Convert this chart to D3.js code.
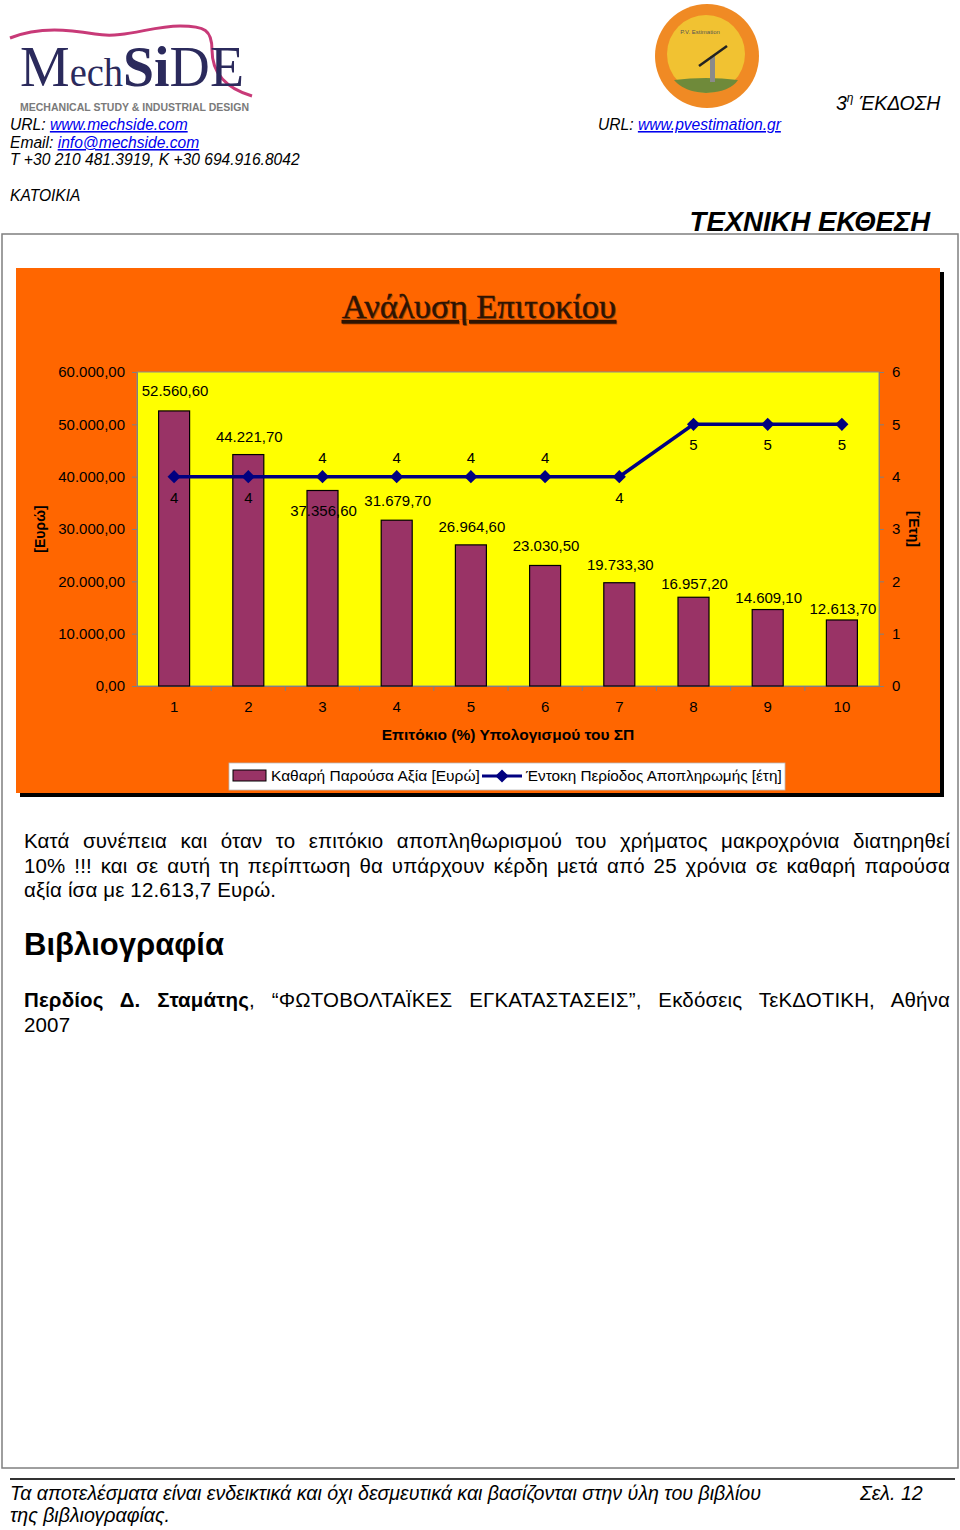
<!DOCTYPE html>
<html>
<head>
<meta charset="utf-8">
<script src="https://cdn.jsdelivr.net/npm/d3@7/dist/d3.min.js"></script>
<style>
  html, body { margin:0; padding:0; background:#fff; }
  body { width:960px; height:1530px; position:relative; overflow:hidden; font-family:"Liberation Sans", Arial, sans-serif; }
  svg { position:absolute; left:0; top:0; }
  .para { position:absolute; left:24px; width:926px; font-size:20.5px; letter-spacing:0.15px; color:#000; line-height:24.5px; }
  .j2 { text-align:justify; text-align-last:justify; white-space:nowrap; }
</style>
</head>
<body>
<svg id="page" width="960" height="1530"></svg>
<div class="para" style="top:829px;">
  <div class="j2">Κατά συνέπεια και όταν το επιτόκιο αποπληθωρισμού του χρήματος μακροχρόνια διατηρηθεί</div>
  <div class="j2">10% !!! και σε αυτή τη περίπτωση θα υπάρχουν κέρδη μετά από 25 χρόνια σε καθαρή παρούσα</div>
  <div>αξία ίσα με 12.613,7 Ευρώ.</div>
</div>
<div class="para" style="top:925px; font-size:31px; letter-spacing:0; font-weight:bold; line-height:40px;">Βιβλιογραφία</div>
<div class="para" style="top:988px;">
  <div class="j2"><b>Περδίος Δ. Σταμάτης</b>, “ΦΩΤΟΒΟΛΤΑΪΚΕΣ ΕΓΚΑΤΑΣΤΑΣΕΙΣ”, Εκδόσεις ΤεΚΔΟΤΙΚΗ, Αθήνα</div>
  <div>2007</div>
</div>
<script>
// ---------------- DATA ----------------
const rates = ["1","2","3","4","5","6","7","8","9","10"];
const npv = [52560.6, 44221.7, 37356.6, 31679.7, 26964.6, 23030.5, 19733.3, 16957.2, 14609.1, 12613.7];
const payback = [4, 4, 4, 4, 4, 4, 4, 5, 5, 5];
const leftTicks = [0, 10000, 20000, 30000, 40000, 50000, 60000];
const rightTicks = [0, 1, 2, 3, 4, 5, 6];
const seriesNames = ["Καθαρή Παρούσα Αξία [Ευρώ]", "Έντοκη Περίοδος Αποπληρωμής [έτη]"];
const chartTitle = "Ανάλυση Επιτοκίου";
const xTitle = "Επιτόκιο (%) Υπολογισμού του ΣΠ";
const yLeftTitle = "[Ευρώ]";
const yRightTitle = "[Έτη]";

// label layout (nudges, as placed in the original chart)
const barLabelDy = [-15, -13, 25, -14, -13, -14, -13, -8, -7, -6];
const lineLabelDy = [26, 26, -14, -14, -14, -14, 26, 26, 26, 26];

// ---------------- PAGE ----------------
const svg = d3.select("#page");
const FONT = "'Liberation Sans', Arial, sans-serif";

// Header: MechSiDE logo
const logo = svg.append("g");
logo.append("path")
  .attr("d", "M10,38 C40,26 70,30 95,34 C125,39 150,26 180,26 C205,26 212,30 212,50 C212,72 225,88 252,96")
  .attr("fill", "none").attr("stroke", "#c83a78").attr("stroke-width", 3);
const lt = logo.append("text").attr("x", 20).attr("y", 86)
  .attr("font-family", "'Liberation Serif', 'DejaVu Serif', serif").attr("fill", "#2b2a5c")
  .attr("textLength", 224).attr("lengthAdjust", "spacingAndGlyphs");
lt.append("tspan").attr("font-size", 58).text("M");
lt.append("tspan").attr("font-size", 40).text("ech");
lt.append("tspan").attr("font-size", 58).attr("font-weight", "bold").text("Si");
lt.append("tspan").attr("font-size", 58).text("DE");
logo.append("text").attr("x", 20).attr("y", 111).attr("font-family", FONT)
  .attr("font-size", 10.5).attr("font-weight", "bold").attr("fill", "#7a7a7a")
  .attr("textLength", 229).attr("lengthAdjust", "spacingAndGlyphs")
  .text("MECHANICAL STUDY & INDUSTRIAL DESIGN");

function headerLine(x, y, parts) {
  const t = svg.append("text").attr("x", x).attr("y", y).attr("font-family", FONT)
    .attr("font-size", 15.6).attr("font-style", "italic").attr("fill", "#000");
  parts.forEach(p => {
    const s = t.append("tspan").text(p.t);
    if (p.link) s.attr("fill", "#0000ee").attr("text-decoration", "underline");
  });
  return t;
}
headerLine(10, 130, [{t:"URL: "}, {t:"www.mechside.com", link:true}]);
headerLine(10, 148, [{t:"Email: "}, {t:"info@mechside.com", link:true}]);
headerLine(10, 165, [{t:"T +30 210 481.3919, K +30 694.916.8042"}]);
headerLine(10, 201, [{t:"KATOIKIA"}]);
headerLine(598, 130, [{t:"URL: "}, {t:"www.pvestimation.gr", link:true}]);

// PV logo
const pv = svg.append("g");
pv.append("circle").attr("cx", 707).attr("cy", 56).attr("r", 52).attr("fill", "#f08a24");
pv.append("circle").attr("cx", 706).attr("cy", 54).attr("r", 39).attr("fill", "#f1c232");
pv.append("path").attr("d", "M674,80 Q706,76 738,80 Q730,92 706,93 Q684,92 674,80 Z").attr("fill", "#6f8a3a");
pv.append("rect").attr("x", 710).attr("y", 56).attr("width", 5).attr("height", 26).attr("fill", "#8a8a8a");
pv.append("line").attr("x1", 699).attr("y1", 66).attr("x2", 727).attr("y2", 46).attr("stroke", "#222").attr("stroke-width", 2.5);
pv.append("text").attr("x", 700).attr("y", 34).attr("text-anchor", "middle").attr("font-family", FONT)
  .attr("font-size", 6).attr("fill", "#555").text("P.V. Estimation");

// Edition
const ed = svg.append("text").attr("x", 836).attr("y", 110).attr("font-family", FONT)
  .attr("font-size", 19.5).attr("font-style", "italic");
ed.append("tspan").text("3");
ed.append("tspan").attr("font-size", 12).attr("dy", -8).text("η");
ed.append("tspan").attr("dy", 8).text(" ΈΚΔΟΣΗ");

svg.append("text").attr("x", 930).attr("y", 231).attr("text-anchor", "end").attr("font-family", FONT)
  .attr("font-size", 27.5).attr("font-weight", "bold").attr("font-style", "italic").text("ΤΕΧΝΙΚΗ ΕΚΘΕΣΗ");

// page frame
svg.append("rect").attr("x", 2).attr("y", 234).attr("width", 956).attr("height", 1234)
  .attr("fill", "none").attr("stroke", "#7f7f7f").attr("stroke-width", 1.5);

// footer
svg.append("line").attr("x1", 10).attr("x2", 955).attr("y1", 1479).attr("y2", 1479)
  .attr("stroke", "#333").attr("stroke-width", 2);
const foot = (x, y, t) => svg.append("text").attr("x", x).attr("y", y).attr("font-family", FONT)
  .attr("font-size", 19.6).attr("font-style", "italic").text(t);
foot(10, 1500, "Τα αποτελέσματα είναι ενδεικτικά και όχι δεσμευτικά και βασίζονται στην ύλη του βιβλίου");
foot(10, 1522, "της βιβλιογραφίας.");
foot(860, 1500, "Σελ. 12");

// ---------------- CHART ----------------
const chart = svg.append("g");
chart.append("rect").attr("x", 20).attr("y", 272).attr("width", 924).attr("height", 525).attr("fill", "#000");
chart.append("rect").attr("x", 16).attr("y", 268).attr("width", 924).attr("height", 525).attr("fill", "#ff6600");

// title (with soft shadow)
const titleFont = "'Liberation Serif', 'DejaVu Serif', serif";
chart.append("text").attr("x", 480).attr("y", 319).attr("text-anchor", "middle")
  .attr("font-family", titleFont).attr("font-size", 34.5)
  .attr("fill", "#7a3000").attr("opacity", 0.6).attr("text-decoration", "underline").text(chartTitle);
chart.append("text").attr("x", 479).attr("y", 318).attr("text-anchor", "middle")
  .attr("font-family", titleFont).attr("font-size", 34.5)
  .attr("fill", "#2e1403").attr("stroke", "#2e1403").attr("stroke-width", 0.4)
  .attr("text-decoration", "underline").text(chartTitle);

const plot = {l:137, r:879, t:372, b:686};
const x = d3.scaleBand().domain(rates).range([plot.l, plot.r]).paddingInner(0).paddingOuter(0);
const yL = d3.scaleLinear().domain([0, 60000]).range([plot.b, plot.t]);
const yR = d3.scaleLinear().domain([0, 6]).range([plot.b, plot.t]);
const gr = d3.formatLocale({decimal: ",", thousands: ".", grouping: [3], currency: ["", "€"]});
const fmt = gr.format(",.2f");

chart.append("rect").attr("x", plot.l).attr("y", plot.t).attr("width", plot.r - plot.l).attr("height", plot.b - plot.t)
  .attr("fill", "#ffff00").attr("stroke", "#8c8c8c").attr("stroke-width", 1);

// axes
const axL = chart.append("g").attr("transform", `translate(${plot.l},0)`)
  .call(d3.axisLeft(yL).tickValues(leftTicks).tickFormat(fmt).tickSize(5).tickPadding(7));
const axR = chart.append("g").attr("transform", `translate(${plot.r},0)`)
  .call(d3.axisRight(yR).tickValues(rightTicks).tickFormat(d3.format("d")).tickSize(5).tickPadding(8));
const axB = chart.append("g").attr("transform", `translate(0,${plot.b})`)
  .call(d3.axisBottom(x).tickSize(0).tickPadding(15));
[axL, axR, axB].forEach(a => {
  a.selectAll("path.domain").attr("stroke", "#808080");
  a.selectAll("line").attr("stroke", "#808080");
  a.selectAll("text").attr("font-family", FONT).attr("font-size", 15).attr("fill", "#000");
});
chart.append("g").selectAll("line").data(rates.slice(1)).join("line")
  .attr("x1", d => x(d)).attr("x2", d => x(d)).attr("y1", plot.b).attr("y2", plot.b + 5)
  .attr("stroke", "#808080");

// axis titles
chart.append("text").attr("x", 508).attr("y", 740).attr("text-anchor", "middle").attr("font-family", FONT)
  .attr("font-size", 15.5).attr("font-weight", "bold").text(xTitle);
chart.append("text").attr("transform", "translate(45,529) rotate(-90)").attr("text-anchor", "middle")
  .attr("font-family", FONT).attr("font-size", 14).attr("font-weight", "bold").text(yLeftTitle);
chart.append("text").attr("transform", "translate(909,529) rotate(90)").attr("text-anchor", "middle")
  .attr("font-family", FONT).attr("font-size", 14).attr("font-weight", "bold").text(yRightTitle);

// bars
const bw = 31;
chart.append("g").selectAll("rect").data(npv).join("rect")
  .attr("x", (d, i) => x(rates[i]) + x.bandwidth() / 2 - bw / 2)
  .attr("width", bw)
  .attr("y", d => yL(d))
  .attr("height", d => yL(0) - yL(d))
  .attr("fill", "#993366").attr("stroke", "#000").attr("stroke-width", 1.2);

// line
const cx = i => x(rates[i]) + x.bandwidth() / 2;
chart.append("path").datum(payback)
  .attr("d", d3.line().x((d, i) => cx(i)).y(d => yR(d)))
  .attr("fill", "none").attr("stroke", "#000080").attr("stroke-width", 3.5);
const diamond = d3.symbol().type(d3.symbolDiamond2).size(110);
chart.append("g").selectAll("path").data(payback).join("path")
  .attr("transform", (d, i) => `translate(${cx(i)},${yR(d)})`)
  .attr("d", diamond).attr("fill", "#000080");

// bar labels
chart.append("g").selectAll("text").data(npv).join("text")
  .attr("x", (d, i) => cx(i) + 1).attr("y", (d, i) => yL(d) + barLabelDy[i])
  .attr("text-anchor", "middle").attr("font-family", FONT).attr("font-size", 15).text(d => fmt(d));
// line labels
chart.append("g").selectAll("text").data(payback).join("text")
  .attr("x", (d, i) => cx(i)).attr("y", (d, i) => yR(d) + lineLabelDy[i])
  .attr("text-anchor", "middle").attr("font-family", FONT).attr("font-size", 15).text(d => d);

// legend
const lg = chart.append("g");
lg.append("rect").attr("x", 229).attr("y", 763).attr("width", 556).attr("height", 27)
  .attr("fill", "#fff").attr("stroke", "#bbb").attr("stroke-width", 0.8);
lg.append("rect").attr("x", 233).attr("y", 770).attr("width", 33).attr("height", 11)
  .attr("fill", "#993366").attr("stroke", "#000").attr("stroke-width", 1);
lg.append("text").attr("x", 271).attr("y", 781).attr("font-family", FONT).attr("font-size", 15.5).text(seriesNames[0]);
lg.append("line").attr("x1", 482).attr("x2", 522).attr("y1", 776).attr("y2", 776)
  .attr("stroke", "#000080").attr("stroke-width", 3);
lg.append("path").attr("transform", "translate(502,776)").attr("d", diamond).attr("fill", "#000080");
lg.append("text").attr("x", 526).attr("y", 781).attr("font-family", FONT).attr("font-size", 15.3).text(seriesNames[1]);
</script>
</body>
</html>
